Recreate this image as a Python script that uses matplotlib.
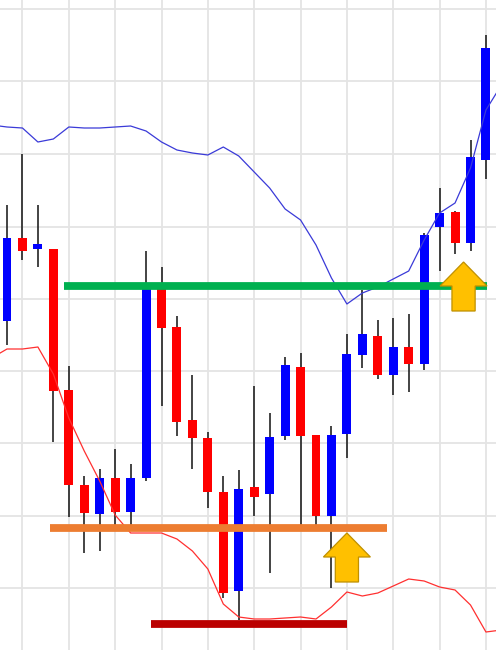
import matplotlib
matplotlib.use("Agg")
import matplotlib.pyplot as plt
from matplotlib.patches import Polygon

# --- candles, y scale runs top to bottom ---
opens = [238, 238, 244, 249, 390, 485, 478, 478, 478, 286, 286, 327, 420, 438, 492, 489,
         487, 437, 365, 367, 435, 435, 354, 334, 336, 347, 347, 235, 213, 212, 157, 48]
closes = [321, 251, 249, 391, 485, 513, 514, 512, 512, 478, 328, 422, 438, 492, 593, 591,
          497, 494, 436, 436, 516, 516, 434, 355, 375, 375, 364, 364, 227, 243, 243, 160]
highs = [205, 154, 205, 249, 366, 476, 469, 449, 464, 251, 267, 316, 375, 432, 476, 470,
         386, 413, 357, 353, 435, 426, 334, 290, 320, 318, 314, 233, 188, 211, 140, 35]
lows = [345, 260, 267, 442, 517, 553, 551, 527, 527, 481, 406, 436, 469, 508, 598, 620,
        516, 573, 440, 527, 527, 588, 458, 368, 379, 395, 392, 370, 271, 254, 251, 179]
colors = ['blue', 'red', 'blue', 'red', 'red', 'red', 'blue', 'red', 'blue', 'blue', 'red',
          'red', 'red', 'red', 'red', 'blue', 'red', 'blue', 'blue', 'red', 'red', 'blue',
          'blue', 'blue', 'red', 'blue', 'red', 'blue', 'blue', 'red', 'blue', 'blue']

# --- bands, one value per candle slot from -1 to 32 ---
band_x = list(range(-1, 33))
upper_band = [125, 127, 128, 142, 139, 127, 128, 128, 127, 126, 131, 142, 150, 153, 155, 147, 156,
              172, 188, 209, 220, 245, 278, 304, 293, 287, 279, 271, 240, 213, 203, 168, 110, 85]
lower_band = [358, 349, 349, 347, 374, 418, 451, 481, 515, 533, 533, 533, 539, 551, 569, 604, 617,
              619, 619, 618, 617, 619, 607, 592, 596, 593, 586, 579, 581, 587, 590, 605, 632, 630]

# --- hand drawn levels and arrows ---
level_y = [286, 528, 624]
level_start = [3.69, 2.78, 9.32]
level_end = [31.07, 24.6, 22.0]
level_colors = ['#00b050', '#ed7d31', '#bb0000']
arrow_x = [22, 29.55]
arrow_tip = [533, 262]

grid_x = [1, 4, 7, 10, 13, 16, 19, 22, 25, 28, 31]
grid_y = [9, 81, 154, 227, 298.5, 371, 443, 516, 588]

fig = plt.figure(figsize=(4.96, 6.5), dpi=100)
ax = fig.add_axes([0, 0, 1, 1])
ax.set_xlim(-7 / 15.45, 489 / 15.45)
ax.set_ylim(650, 0)

# grid only, the chart has no labels
ax.set_xticks(grid_x)
ax.set_yticks(grid_y)
ax.tick_params(length=0, labelbottom=False, labelleft=False)
ax.grid(True, color='#e4e4e4', linewidth=1.3)
ax.set_axisbelow(True)
for s in ax.spines.values():
    s.set_visible(False)

x = list(range(len(opens)))
ax.vlines(x, highs, lows, color='#1a1a1a', linewidth=1.15, zorder=2)
ax.bar(x, [c - o for o, c in zip(opens, closes)], bottom=opens, width=0.58,
       color=colors, zorder=3)

ax.plot(band_x, upper_band, color='#3a3ad8', linewidth=0.9, zorder=4)
ax.plot(band_x, lower_band, color='#ff3030', linewidth=0.9, zorder=4)

for y, x0, x1, c in zip(level_y, level_start, level_end, level_colors):
    ax.hlines(y, x0, x1, color=c, linewidth=5.6, zorder=5)

# block arrows
for ax_x, tip in zip(arrow_x, arrow_tip):
    pts = [(ax_x, tip), (ax_x + 1.52, tip + 24), (ax_x + 0.75, tip + 24), (ax_x + 0.75, tip + 49),
           (ax_x - 0.75, tip + 49), (ax_x - 0.75, tip + 24), (ax_x - 1.52, tip + 24)]
    ax.add_patch(Polygon(pts, closed=True, facecolor='#ffc000', edgecolor='#bf9000',
                         linewidth=0.9, zorder=6))

fig.savefig("out.png", dpi=100)
